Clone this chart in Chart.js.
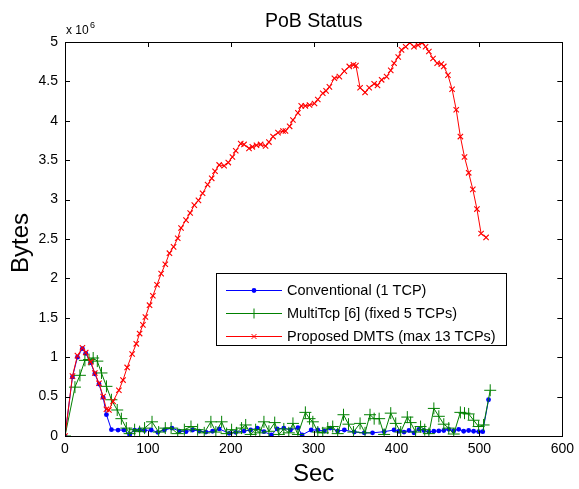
<!DOCTYPE html>
<html>
<head>
<meta charset="utf-8">
<script src="https://cdn.jsdelivr.net/npm/chart.js@4.4.1/dist/chart.umd.min.js"></script>
<style>
html,body{margin:0;padding:0;background:#fff;}
#wrap{width:579px;height:489px;position:relative;}
</style>
</head>
<body>
<div id="wrap"><canvas id="c" width="579" height="489"></canvas></div>
<script>
// Values in units of 10^6 bytes
const convTime = [0,9,15,21,25,31,36,41,46,50,56,64,71,78,84,90,96,104,112,120,129,138,146,154,162,170,178,186,198,206,216,224,232,240,249,256,264,272,281,286,297,305,313,320,329,337,349,361,371,385,397,403,409,415,421,427,433,439,445,451,457,463,469,475,481,487,493,499,504,511];
const convVal  = [0,0.75,1.0,1.11,1.05,0.93,0.79,0.66,0.49,0.27,0.08,0.075,0.075,0.02,0.075,0.076,0.07,0.076,0.047,0.076,0.10,0.063,0.055,0.076,0.063,0.05,0.06,0.09,0.034,0.047,0.063,0.076,0.10,0.055,0.013,0.09,0.10,0.076,0.105,0.013,0.076,0.076,0.063,0.10,0.063,0.076,0.05,0.04,0.04,0.055,0.076,0.06,0.05,0.07,0.04,0.085,0.07,0.05,0.06,0.065,0.07,0.085,0.065,0.085,0.06,0.07,0.06,0.055,0.055,0.46];

const multiTime = [0,12,18,24,29,34,39,44,50,56,63,68,74,78,84,90,96,105,113,121,128,136,144,152,160,168,176,182,189,195,201,207,213,218,224,230,235,240,246,253,258,264,270,275,281,290,295,299,305,311,317,323,329,336,342,348,356,362,368,373,379,385,393,399,405,413,417,423,429,434,439,445,451,457,463,469,477,482,487,493,499,505,513];
const multiVal  = [0,0.62,0.77,0.96,0.97,0.99,0.95,0.80,0.63,0.46,0.33,0.22,0.10,0.03,0.08,0.055,0.10,0.18,0.05,0.10,0.10,0.03,0.08,0.12,0.08,0.04,0.18,0.05,0.18,0.03,0.08,0.04,0.10,0.14,0.02,0.08,0.04,0.18,0.06,0.17,0.02,0.09,0.04,0.16,0.02,0.30,0.22,0.18,0.05,0.04,0.10,0.12,0.03,0.27,0.15,0.05,0.16,0.04,0.27,0.22,0.22,0.02,0.29,0.16,0.05,0.24,0.17,0.05,0.12,0.08,0.03,0.35,0.25,0.15,0.10,0.025,0.30,0.29,0.28,0.20,0.12,0.14,0.58];

const dmtsTime = [0,9,15,21,25,31,36,41,46,50,53,58,65,70,75,81,86,90,94,97,102,106,111,116,121,126,131,136,140,146,151,156,161,166,172,177,181,186,192,197,202,206,212,216,222,226,231,236,242,246,251,257,263,266,271,275,281,285,290,295,301,305,311,315,319,325,331,337,343,348,351,356,362,367,373,377,382,388,393,397,402,406,411,416,421,426,431,435,439,444,449,454,457,462,467,472,477,482,487,492,497,502,508];
const dmtsVal  = [0,0.76,1.02,1.12,1.06,0.94,0.80,0.67,0.50,0.34,0.33,0.44,0.58,0.71,0.87,1.04,1.17,1.30,1.41,1.51,1.66,1.78,1.92,2.06,2.18,2.32,2.40,2.51,2.64,2.74,2.83,2.93,2.99,3.08,3.19,3.27,3.36,3.44,3.43,3.47,3.54,3.62,3.71,3.70,3.65,3.67,3.69,3.70,3.68,3.73,3.80,3.85,3.87,3.87,3.93,4.01,4.10,4.19,4.19,4.20,4.22,4.27,4.35,4.38,4.43,4.54,4.56,4.63,4.69,4.71,4.70,4.42,4.36,4.42,4.47,4.45,4.52,4.56,4.64,4.73,4.81,4.90,4.94,4.99,4.94,4.96,4.99,4.94,4.88,4.79,4.73,4.72,4.69,4.58,4.40,4.14,3.80,3.54,3.34,3.13,2.88,2.57,2.52];

const seriesNames = ['Conventional (1 TCP)', 'MultiTcp [6] (fixed 5 TCPs)', 'Proposed DMTS (max 13 TCPs)'];
const xTicks = [0,100,200,300,400,500,600];
const yTicks = [0,0.5,1,1.5,2,2.5,3,3.5,4,4.5,5];

const FONT = '"Liberation Sans", Arial, Helvetica, sans-serif';
const BLUE = '#0000ff', GREEN = '#008000', RED = '#ff0000';

function pts(t, v){ return t.map((x,i)=>({x:x, y:v[i]})); }

const decor = {
  id: 'decor',
  afterDraw(chart){
    const ctx = chart.ctx, a = chart.chartArea;
    const xs = chart.scales.x, ys = chart.scales.y;
    ctx.save();
    // box
    ctx.strokeStyle = '#000'; ctx.lineWidth = 1;
    ctx.strokeRect(Math.round(a.left)+0.5, Math.round(a.top)+0.5, Math.round(a.right-a.left), Math.round(a.bottom-a.top));
    // inward ticks
    ctx.beginPath();
    xTicks.forEach(v=>{
      const px = Math.round(xs.getPixelForValue(v))+0.5;
      ctx.moveTo(px, a.bottom); ctx.lineTo(px, a.bottom-5);
      ctx.moveTo(px, a.top); ctx.lineTo(px, a.top+5);
    });
    yTicks.forEach(v=>{
      const py = Math.round(ys.getPixelForValue(v))+0.5;
      ctx.moveTo(a.left, py); ctx.lineTo(a.left+5, py);
      ctx.moveTo(a.right, py); ctx.lineTo(a.right-5, py);
    });
    ctx.stroke();
    // title
    ctx.fillStyle = '#000';
    ctx.textAlign = 'center'; ctx.textBaseline = 'alphabetic';
    ctx.font = '19.5px ' + FONT;
    ctx.fillText('PoB Status', (a.left+a.right)/2, 27);
    // x label
    ctx.font = '24px ' + FONT;
    ctx.fillText('Sec', (a.left+a.right)/2, 481);
    // y label
    ctx.save();
    ctx.translate(21, (a.top+a.bottom)/2 + 4);
    ctx.rotate(-Math.PI/2);
    ctx.textBaseline = 'middle';
    ctx.fillText('Bytes', 0, 0);
    ctx.restore();
    // exponent
    ctx.textAlign = 'left';
    ctx.font = '12px ' + FONT;
    ctx.fillText('x 10', 66, 34);
    ctx.font = '9px ' + FONT;
    ctx.fillText('6', 90, 28);
    // legend
    const lx = 216.5, ly = 273.5, lw = 290, lh = 72;
    ctx.fillStyle = '#fff';
    ctx.fillRect(lx, ly, lw, lh);
    ctx.strokeStyle = '#000';
    ctx.strokeRect(lx, ly, lw, lh);
    const cols = [BLUE, GREEN, RED];
    const rows = [290, 313, 336];
    ctx.font = '14.5px ' + FONT;
    ctx.textBaseline = 'middle';
    rows.forEach((y,i)=>{
      ctx.strokeStyle = cols[i]; ctx.fillStyle = cols[i]; ctx.lineWidth = 1;
      ctx.beginPath(); ctx.moveTo(226, y+0.5); ctx.lineTo(282, y+0.5); ctx.stroke();
      const mx = 254, my = y+0.5;
      ctx.beginPath();
      if (i===0){ ctx.arc(mx, my, 2.4, 0, Math.PI*2); ctx.fill(); }
      else if (i===1){ ctx.moveTo(mx-5,my); ctx.lineTo(mx+5,my); ctx.moveTo(mx,my-5); ctx.lineTo(mx,my+5); ctx.stroke(); }
      else { ctx.moveTo(mx-2.5,my-2.5); ctx.lineTo(mx+2.5,my+2.5); ctx.moveTo(mx+2.5,my-2.5); ctx.lineTo(mx-2.5,my+2.5); ctx.stroke(); }
      ctx.fillStyle = '#000';
      ctx.fillText(seriesNames[i], 287, y+1);
    });
    ctx.restore();
  }
};

new Chart(document.getElementById('c'), {
  type: 'scatter',
  data: {
    datasets: [
      { label: seriesNames[0], data: pts(convTime, convVal), showLine: true, borderColor: BLUE, backgroundColor: BLUE,
        borderWidth: 1, pointStyle: 'circle', pointRadius: 2.4, pointBorderWidth: 0, order: 2 },
      { label: seriesNames[1], data: pts(multiTime, multiVal), showLine: true, borderColor: GREEN, backgroundColor: GREEN,
        borderWidth: 1, pointStyle: 'cross', pointRadius: 6, pointBorderWidth: 1, order: 1 },
      { label: seriesNames[2], data: pts(dmtsTime, dmtsVal), showLine: true, borderColor: RED, backgroundColor: RED,
        borderWidth: 1, pointStyle: 'crossRot', pointRadius: 3.8, pointBorderWidth: 1.1, order: 0 }
    ]
  },
  options: {
    responsive: false,
    animation: false,
    devicePixelRatio: 1,
    layout: { padding: { left: 0, top: 42, right: 13, bottom: 0 } },
    plugins: { legend: { display: false }, title: { display: false }, tooltip: { enabled: false } },
    scales: {
      x: {
        type: 'linear', min: 0, max: 600,
        afterFit(s){ s.height = 53; },
        afterBuildTicks(s){ s.ticks = xTicks.map(v=>({value:v})); },
        grid: { display: false, drawTicks: false },
        border: { display: false },
        ticks: { padding: 5, color: '#000', font: { family: FONT, size: 14 }, maxRotation: 0, autoSkip: false, callback: v => String(v) }
      },
      y: {
        type: 'linear', min: 0, max: 5,
        afterFit(s){ s.width = 65; },
        afterBuildTicks(s){ s.ticks = yTicks.map(v=>({value:v})); },
        grid: { display: false, drawTicks: false },
        border: { display: false },
        ticks: { padding: 7, color: '#000', font: { family: FONT, size: 14 }, autoSkip: false, callback: v => String(v) }
      }
    }
  },
  plugins: [decor]
});
</script>
</body>
</html>
